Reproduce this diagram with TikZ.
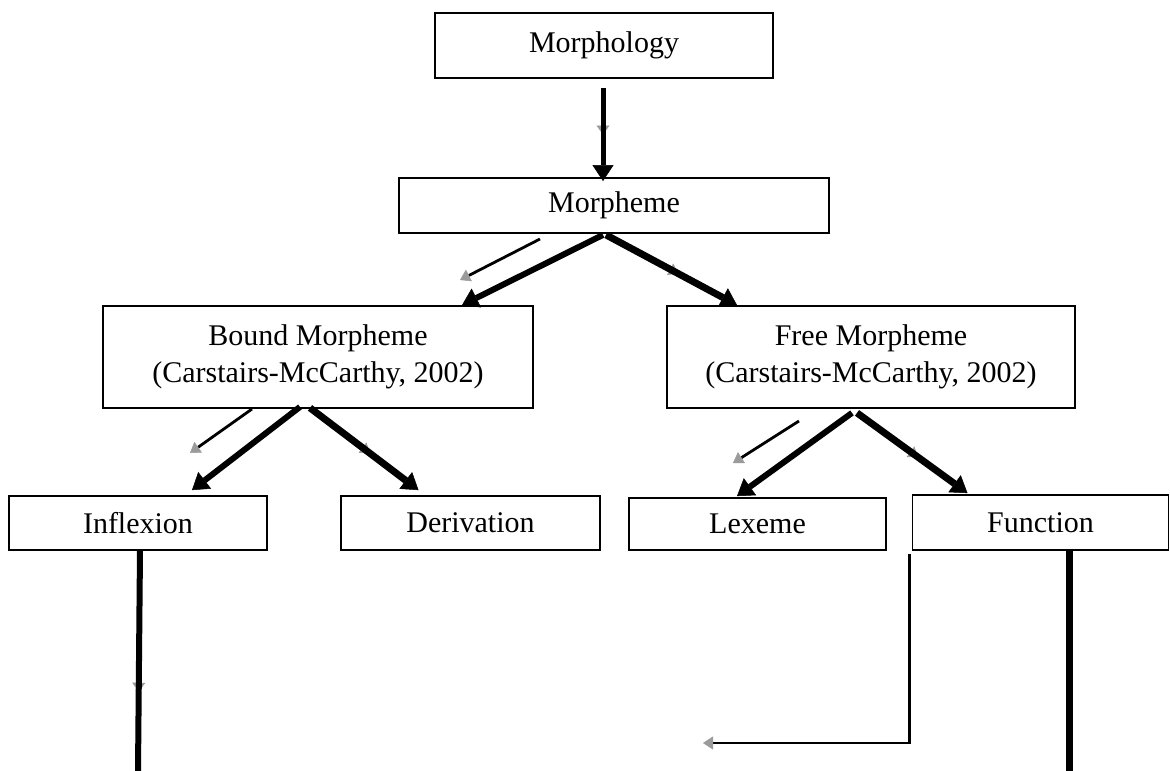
\documentclass[tikz,border=0pt]{standalone}
\usepackage{fontspec}
\setmainfont{Liberation Serif}
\usetikzlibrary{arrows.meta,decorations.markings,calc}
\definecolor{tipgray}{RGB}{155,155,155}
\begin{document}
\begin{tikzpicture}[x=1pt,y=-1pt,
  box/.style={draw=black, line width=1.8pt, fill=white, inner sep=0pt,
    font=\fontsize{30}{37}\selectfont, align=center},
  mainarr/.style={line width=#1, -{Triangle[width=21pt,length=16pt,line width=0.5pt]}},
  midgray/.style={preaction={decorate, decoration={markings,
    mark=at position #1 with {\arrow{Triangle[width=13pt,length=9pt,line width=0.5pt,color=tipgray]}}}}},
  thinarr/.style={line width=2.8pt, -{Triangle[width=13pt,length=10pt,line width=0.5pt,color=tipgray]}},
]
\useasboundingbox (0,0) rectangle (1170,771);

% boxes
\node[box, minimum width=338pt, minimum height=65pt] (mph) at (604,45.5) {Morphology};
\node[box, minimum width=430pt, minimum height=55pt] (mpm) at (614,205.5) {Morpheme};
\node[box, minimum width=430pt, minimum height=102pt] (bnd) at (318,357) {Bound Morpheme\\(Carstairs-McCarthy, 2002)};
\node[box, minimum width=408pt, minimum height=102pt] (fre) at (871,357) {Free Morpheme\\(Carstairs-McCarthy, 2002)};
\node[box, minimum width=258pt, minimum height=54pt] (inf) at (138,523) {Inflexion};
\node[box, minimum width=259pt, minimum height=54pt] (der) at (470.5,523) {Derivation};
\node[box, minimum width=257pt, minimum height=52pt] (lex) at (757.5,524) {Lexeme};
\node[box, minimum width=256pt, minimum height=55pt] (fun) at (1040.5,522.5) {Function};

% free ends
\coordinate (t1s) at (540,239);
\coordinate (t1e) at (460,280);
\coordinate (t2s) at (252,409);
\coordinate (t2e) at (190,453);
\coordinate (t3s) at (799,421);
\coordinate (t3e) at (733,463);
\coordinate (ib) at (138,771);
\coordinate (fe) at (703,743);
\coordinate (fb) at (1069,771);

% Morphology -> Morpheme
\draw[mainarr=5pt, midgray=.5] ([xshift=-1pt,yshift=-9pt]mph.south) -- ([xshift=-11pt,yshift=-4pt]mpm.north);

% Morpheme -> Bound / Free
\draw[thinarr] (t1s) -- (t1e);
\draw[mainarr=6pt] ([xshift=-11pt,yshift=-1pt]mpm.south) -- ([xshift=144pt]bnd.north);
\draw[mainarr=7pt, midgray=.55] ([xshift=-8pt,yshift=-1pt]mpm.south) -- ([xshift=-134pt]fre.north);

% Bound -> Inflexion / Derivation
\draw[thinarr] (t2s) -- (t2e);
\draw[mainarr=6pt] ([xshift=-18pt,yshift=2pt]bnd.south) -- ([xshift=54pt,yshift=5pt]inf.north);
\draw[mainarr=7pt, midgray=.55] ([xshift=-8pt,yshift=1pt]bnd.south) -- ([xshift=-52pt,yshift=5pt]der.north);

% Free -> Lexeme / Function
\draw[thinarr] (t3s) -- (t3e);
\draw[mainarr=6pt] ([xshift=-19pt,yshift=-4pt]fre.south) -- ([xshift=-20.5pt,yshift=1pt]lex.north);
\draw[mainarr=7pt, midgray=.55] ([xshift=-14pt,yshift=-4pt]fre.south) -- ([xshift=-73pt,yshift=1pt]fun.north);

% lower lines
\draw[line width=6pt, midgray=.64] ([xshift=2pt]inf.south) -- (ib);
\draw[thinarr] ([xshift=-2pt,yshift=-3pt]fun.south west) |- (fe);
\draw[line width=7pt] ([yshift=2pt]fb |- fun.south) -- (fb);
\end{tikzpicture}
\end{document}
